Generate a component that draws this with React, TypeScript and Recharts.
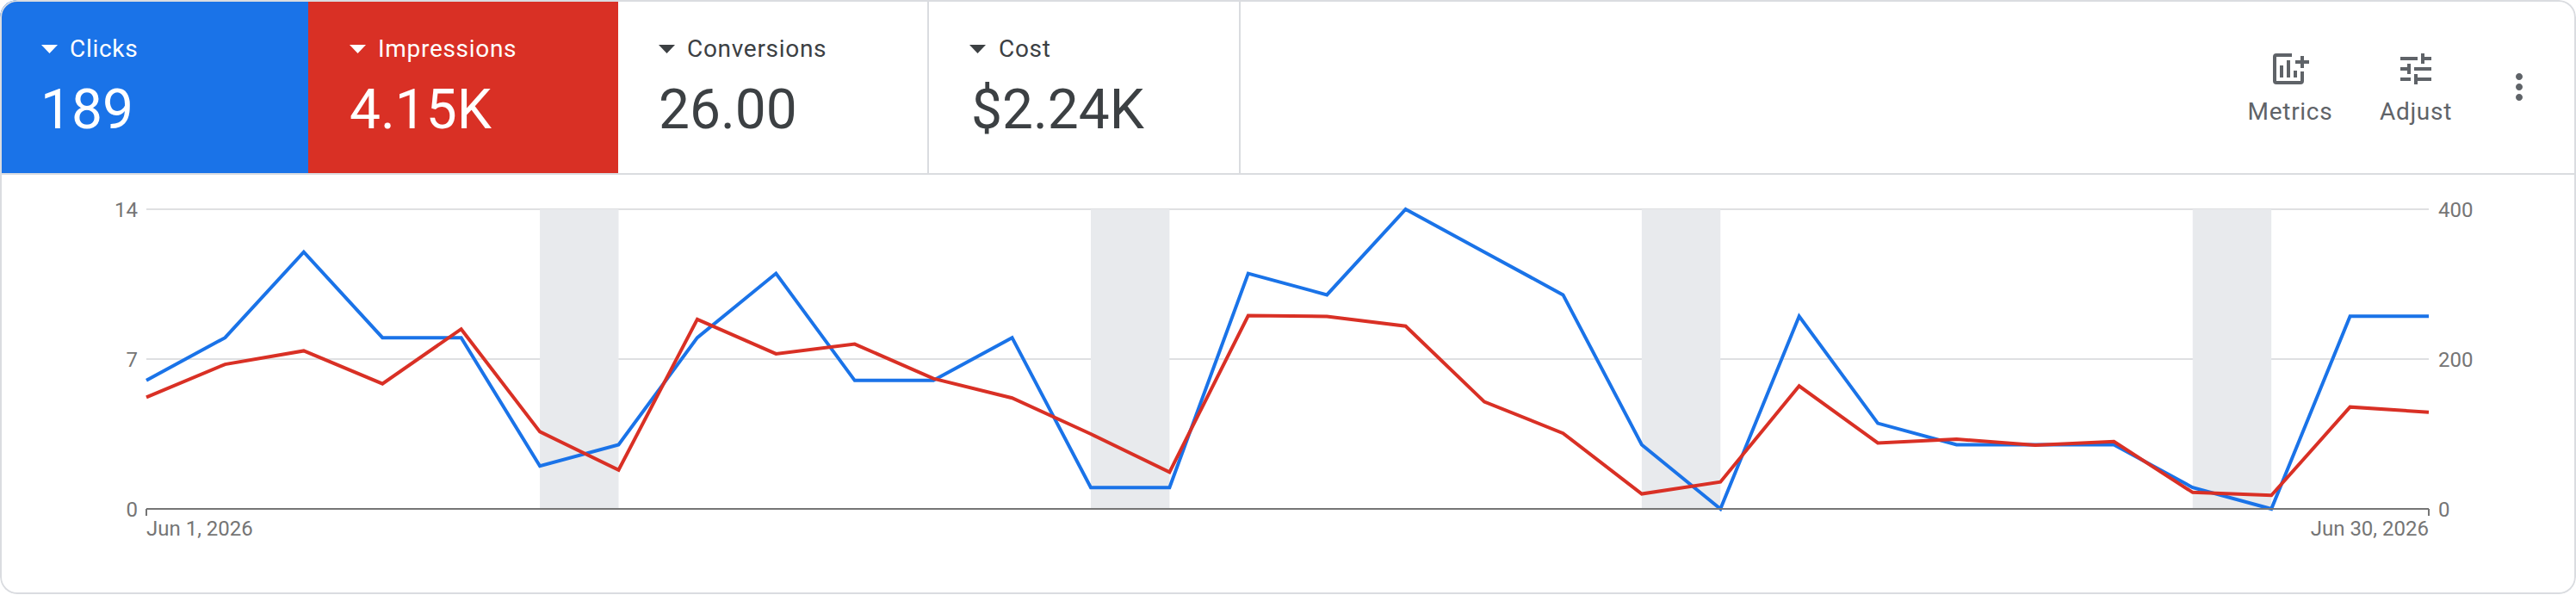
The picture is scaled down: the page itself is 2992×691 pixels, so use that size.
import React from "react";
import { LineChart, Line, XAxis, YAxis, CartesianGrid, ReferenceArea } from "recharts";

const days: string[] = [
  "Jun 1, 2026","Jun 2, 2026","Jun 3, 2026","Jun 4, 2026","Jun 5, 2026","Jun 6, 2026","Jun 7, 2026","Jun 8, 2026","Jun 9, 2026","Jun 10, 2026",
  "Jun 11, 2026","Jun 12, 2026","Jun 13, 2026","Jun 14, 2026","Jun 15, 2026","Jun 16, 2026","Jun 17, 2026","Jun 18, 2026","Jun 19, 2026","Jun 20, 2026",
  "Jun 21, 2026","Jun 22, 2026","Jun 23, 2026","Jun 24, 2026","Jun 25, 2026","Jun 26, 2026","Jun 27, 2026","Jun 28, 2026","Jun 29, 2026","Jun 30, 2026",
];
const clicks: number[] = [6,8,12,8,8,2,3,8,11,6,6,8,1,1,11,10,14,12,10,3,0,9,4,3,3,3,1,0,9,9];
const impressions: number[] = [149,193,211,167,240,103,52,253,207,220,174,148,100,49,258,257,244,143,101,20,36,164,88,93,85,90,22,18,136,129];
const weekends: [string, string][] = [
  ["Jun 6, 2026","Jun 7, 2026"],
  ["Jun 13, 2026","Jun 14, 2026"],
  ["Jun 20, 2026","Jun 21, 2026"],
  ["Jun 27, 2026","Jun 28, 2026"],
];
const leftTicks: number[] = [0,7,14];
const rightTicks: number[] = [0,200,400];
const dateTicks: string[] = ["Jun 1, 2026","Jun 30, 2026"];
const metricLabels: string[] = ["Clicks","Impressions","Conversions","Cost"];
const metricValues: string[] = ["189","4.15K","26.00","$2.24K"];
const actionLabels: string[] = ["Metrics","Adjust"];

const BLUE = "#1a73e8";
const RED = "#d93025";
const BORDER = "#dadce0";
const FONT = "Roboto, sans-serif";

const rows = days.map((day, i) => ({ day, clicks: clicks[i], impressions: impressions[i] }));

const tiles = [
  { x: 0, w: 358, tri: 48, label: 81, value: 47, fill: BLUE, text: "#ffffff" },
  { x: 358, w: 360, tri: 406, label: 439, value: 406, fill: RED, text: "#ffffff" },
  { x: 718, w: 361, tri: 765, label: 798, value: 765, fill: "#ffffff", text: "#3c4043" },
  { x: 1079, w: 362, tri: 1126, label: 1160, value: 1128, fill: "#ffffff", text: "#3c4043" },
];

function DateTick(props: any) {
  const { x, y, payload, index } = props;
  return (
    <text x={x} y={y + 21} fontFamily={FONT} fontSize={24} fill="#757575" textAnchor={index === 0 ? "start" : "end"}>
      {payload.value}
    </text>
  );
}

function Header() {
  return (
    <svg width={2992} height={204} style={{ position: "absolute", left: 0, top: 0 }}>
      <rect x={0} y={0} width={2992} height={204} fill="#ffffff" />
      {tiles.map((t, i) => (
        <g key={metricLabels[i]}>
          <rect x={t.x} y={0} width={t.w} height={202} fill={t.fill} />
          {i > 1 && <rect x={t.x + t.w - 2} y={0} width={2} height={202} fill={BORDER} />}
          <path d={`M${t.tri} 52h19l-9.5 10z`} fill={i < 2 ? "#ffffff" : "#3c4043"} />
          <text x={t.label} y={66} fontFamily={FONT} fontSize={28} letterSpacing={0.7} fill={t.text}>{metricLabels[i]}</text>
          <text x={t.value} y={149} fontFamily={FONT} fontSize={64} fill={t.text}>{metricValues[i]}</text>
        </g>
      ))}
      <rect x={0} y={201} width={2992} height={2} fill={BORDER} />
      <path
        fill="#5f6368"
        d="M2644 62h18v4h-18v28h28v-11h4v11a4 4 0 0 1-4 4h-28a4 4 0 0 1-4-4v-28a4 4 0 0 1 4-4z"
      />
      <path fill="#5f6368" d="M2648 76h4v14h-4zM2656 70h4v20h-4zM2664 82h4v8h-4z" />
      <path fill="#5f6368" d="M2672 65h4v5h6v4h-6v5h-4v-5h-6v-4h6z" />
      <g transform="translate(2782 56) scale(2)" fill="#5f6368">
        <path d="M3 17v2h6v-2H3zM3 5v2h10V5H3zm10 16v-2h8v-2h-8v-2h-2v6h2zM7 9v2H3v2h4v2h2V9H7zm14 4v-2H11v2h10zm-6-4h2V7h4V5h-4V3h-2v6z" />
      </g>
      <g transform="translate(2902 77) scale(2)" fill="#5f6368">
        <path d="M12 8c1.1 0 2-.9 2-2s-.9-2-2-2-2 .9-2 2 .9 2 2 2zm0 2c-1.1 0-2 .9-2 2s.9 2 2 2 2-.9 2-2-.9-2-2-2zm0 6c-1.1 0-2 .9-2 2s.9 2 2 2 2-.9 2-2-.9-2-2-2z" />
      </g>
      <text x={2660} y={139} textAnchor="middle" fontFamily={FONT} fontSize={28} letterSpacing={0.7} fill="#5f6368">{actionLabels[0]}</text>
      <text x={2806} y={139} textAnchor="middle" fontFamily={FONT} fontSize={28} letterSpacing={0.7} fill="#5f6368">{actionLabels[1]}</text>
    </svg>
  );
}

export default function App() {
  return (
    <div style={{ position: "absolute", left: 0, top: 0, width: 2992, height: 690, background: "#fff", borderRadius: 20, overflow: "hidden" }}>
      <div style={{ position: "absolute", left: 0, top: 203 }}>
        <LineChart
          width={2992}
          height={487}
          data={rows}
          margin={{ top: 40, right: 111, bottom: 39, left: 130 }}
        >
          {weekends.map(([a, b]) => (
            <ReferenceArea key={a} yAxisId="left" x1={a} x2={b} y1={0} y2={14} fill="#e8eaed" fillOpacity={1} stroke="none" />
          ))}
          <CartesianGrid yAxisId="left" horizontal vertical={false} stroke="#dfe0e2" strokeWidth={2} />
          <XAxis
            dataKey="day"
            ticks={dateTicks}
            interval={0}
            height={60}
            tick={<DateTick />}
            axisLine={{ stroke: "#757575", strokeWidth: 2 }}
            tickLine={{ stroke: "#757575", strokeWidth: 2 }}
            tickSize={8}
          />
          <YAxis
            yAxisId="left"
            width={40}
            domain={[0, 14]}
            ticks={leftTicks}
            interval={0}
            axisLine={false}
            tickLine={false}
            tickSize={0}
            tickMargin={10}
            tick={{ fontFamily: FONT, fontSize: 24, fill: "#757575" }}
          />
          <YAxis
            yAxisId="right"
            orientation="right"
            width={60}
            domain={[0, 400]}
            ticks={rightTicks}
            interval={0}
            axisLine={false}
            tickLine={false}
            tickSize={0}
            tickMargin={11}
            tick={{ fontFamily: FONT, fontSize: 24, fill: "#757575" }}
          />
          <Line yAxisId="left" type="linear" dataKey="clicks" stroke={BLUE} strokeWidth={4} strokeLinejoin="miter" dot={false} isAnimationActive={false} />
          <Line yAxisId="right" type="linear" dataKey="impressions" stroke={RED} strokeWidth={4} strokeLinejoin="miter" dot={false} isAnimationActive={false} />
        </LineChart>
      </div>
      <Header />
      <div style={{ position: "absolute", inset: 0, border: `2px solid ${BORDER}`, borderRadius: 20, boxSizing: "border-box", pointerEvents: "none" }} />
    </div>
  );
}
